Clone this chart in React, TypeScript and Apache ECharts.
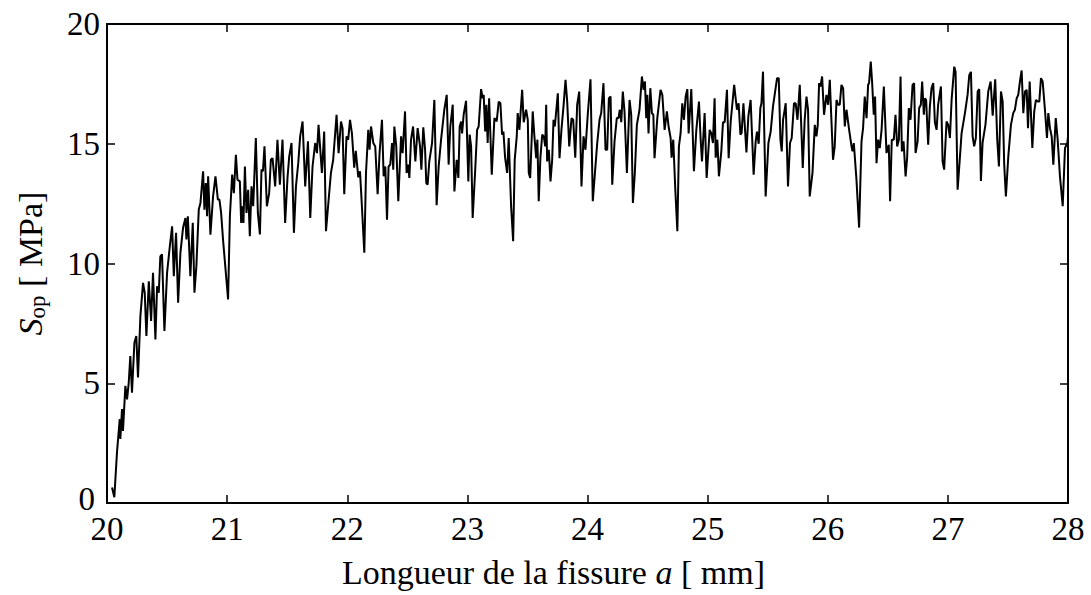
import React, { useEffect, useRef } from "react";
import * as echarts from "echarts";

// Crack length a [mm] vs. opening stress S_op [MPa]
const seg1: number[][] = [[20.042,0.65],[20.061,0.24],[20.083,2.11],[20.106,3.5],[20.111,2.67],[20.125,3.92],[20.133,3.01],[20.153,4.89],[20.167,4.33],[20.181,5.03],[20.194,6.14],[20.208,4.61],[20.228,6.69],[20.244,6.97],[20.258,5.24],[20.278,7.8],[20.3,9.19],[20.314,8.78],[20.328,6.97],[20.348,9.26],[20.367,7.6],[20.383,9.61],[20.403,6.83],[20.417,9.05],[20.431,8.78],[20.444,10.3],[20.458,10.38],[20.478,7.18],[20.5,9.61],[20.523,10.72],[20.542,11.55],[20.556,9.47],[20.575,11.28],[20.592,8.36],[20.611,10.44],[20.633,11.49],[20.653,11.9],[20.661,11.0],[20.673,11.97],[20.694,9.47],[20.714,11.7],[20.728,8.78],[20.744,9.89],[20.764,12.25],[20.778,12.53],[20.8,13.85],[20.811,12.25],[20.823,13.36],[20.833,11.97],[20.842,13.64],[20.861,11.2],[20.883,12.8],[20.903,13.64],[20.923,12.67],[20.936,12.67],[20.95,12.11],[20.967,10.93],[21.008,8.5],[21.023,11.97],[21.042,13.71],[21.056,12.94],[21.073,14.54],[21.086,13.5]];
const seg2: number[][] = [[21.106,13.43],[21.117,11.69],[21.128,12.39],[21.136,11.69],[21.148,14.05],[21.161,12.11],[21.175,13.08],[21.189,11.14],[21.203,13.22],[21.217,12.39],[21.239,15.24],[21.256,12.11],[21.273,11.21],[21.286,13.92],[21.298,13.85],[21.311,14.89],[21.331,12.39],[21.35,12.94],[21.364,14.33],[21.378,14.4],[21.4,13.22],[21.419,15.17],[21.439,13.29],[21.461,15.17],[21.483,11.69],[21.503,13.61],[21.517,14.47],[21.536,15.03],[21.556,11.28],[21.573,13.22],[21.592,14.19],[21.608,15.31],[21.628,15.93],[21.65,13.22],[21.673,15.1],[21.692,11.9],[21.711,14.05],[21.733,15.03],[21.748,14.61],[21.761,15.79],[21.789,13.78],[21.808,15.51],[21.823,11.35],[21.844,12.6],[21.864,13.78],[21.883,14.33],[21.911,16.21],[21.928,14.61],[21.948,15.93],[21.961,15.65],[21.975,12.89],[21.994,15.31],[22.008,15.17],[22.023,16.0],[22.039,15.43],[22.058,14.0],[22.071,14.7],[22.092,13.6]];
const seg3: number[][] = [[22.106,13.85],[22.119,12.67],[22.142,10.45],[22.156,13.78],[22.175,15.58],[22.186,14.75],[22.198,15.72],[22.217,15.03],[22.233,14.89],[22.253,12.89],[22.269,14.61],[22.289,16.0],[22.303,13.64],[22.317,14.05],[22.331,11.83],[22.344,14.05],[22.358,14.13],[22.373,15.03],[22.383,13.92],[22.392,15.72],[22.408,14.89],[22.425,12.6],[22.448,15.31],[22.461,14.61],[22.481,16.35],[22.494,13.78],[22.508,14.13],[22.517,13.57],[22.531,15.17],[22.548,15.72],[22.567,14.26],[22.586,15.65],[22.606,14.89],[22.617,13.92],[22.633,15.69],[22.648,14.75],[22.658,13.36],[22.669,13.29],[22.683,14.26],[22.706,15.03],[22.725,16.83],[22.744,12.43],[22.761,14.05],[22.781,15.17],[22.808,16.42],[22.828,17.04],[22.844,14.13],[22.858,15.72],[22.878,16.63],[22.892,13.01],[22.911,14.33],[22.925,13.57],[22.936,15.72],[22.948,15.93],[22.956,15.43],[22.969,16.21],[22.989,16.79],[23.008,13.43],[23.019,15.38],[23.031,14.89],[23.044,11.9],[23.064,13.78],[23.081,15.58],[23.094,15.72]];
const seg4: number[][] = [[23.114,17.28],[23.128,16.9],[23.136,17.04],[23.148,15.51],[23.158,16.63],[23.169,15.03],[23.181,16.9],[23.203,13.71],[23.225,16.07],[23.244,15.93],[23.261,16.76],[23.275,16.69],[23.289,15.38],[23.3,15.51],[23.314,14.42],[23.331,13.78],[23.344,15.24],[23.364,12.39],[23.381,10.93],[23.394,14.33],[23.411,15.31],[23.419,16.28],[23.433,15.58],[23.456,17.25],[23.469,15.9],[23.489,16.42],[23.503,16.0],[23.511,13.78],[23.523,13.57],[23.544,16.35],[23.558,15.31],[23.573,14.4],[23.583,15.17],[23.594,12.6],[23.608,14.42],[23.623,15.38],[23.636,15.31],[23.648,14.89],[23.656,16.63],[23.664,14.26],[23.678,14.75],[23.692,13.43],[23.706,14.33],[23.717,16.0],[23.728,15.72],[23.753,17.11],[23.767,14.4],[23.783,15.58],[23.8,16.55],[23.817,17.67],[23.831,16.76],[23.848,14.89],[23.867,16.07],[23.881,16.0],[23.898,14.42],[23.914,16.63],[23.931,17.18],[23.95,13.22],[23.967,15.31],[23.983,14.75],[24.003,16.28],[24.025,17.69],[24.044,12.6],[24.064,13.92],[24.081,15.03],[24.1,16.0]];
const seg5: number[][] = [[24.114,16.28],[24.133,17.53],[24.15,14.75],[24.164,14.75],[24.178,16.9],[24.192,16.97],[24.206,13.29],[24.225,15.1],[24.244,16.07],[24.258,16.07],[24.269,16.42],[24.281,15.9],[24.294,17.18],[24.308,16.35],[24.328,13.78],[24.35,16.83],[24.364,16.21],[24.378,12.53],[24.394,13.78],[24.411,15.79],[24.433,16.42],[24.453,17.81],[24.467,17.25],[24.478,17.6],[24.489,16.07],[24.498,17.04],[24.508,15.43],[24.523,17.32],[24.536,16.28],[24.548,16.21],[24.558,14.4],[24.581,16.07],[24.608,17.25],[24.623,17.04],[24.642,15.58],[24.661,16.35],[24.675,15.72],[24.692,15.24],[24.7,14.42],[24.714,15.17],[24.731,13.08],[24.748,11.35],[24.761,14.89],[24.775,15.43],[24.789,16.69],[24.803,16.0],[24.817,16.97],[24.831,17.28],[24.842,15.43],[24.864,17.28],[24.886,13.85],[24.906,15.58],[24.928,16.76],[24.942,15.17],[24.953,14.26],[24.975,16.28],[24.992,13.57],[25.017,15.58],[25.031,15.43],[25.044,15.03],[25.058,16.9],[25.067,14.42],[25.081,15.17],[25.094,13.64],[25.114,14.68],[25.128,15.9],[25.142,15.9],[25.161,17.25],[25.175,14.4],[25.192,15.93]];
const seg6: number[][] = [[25.221,17.46],[25.244,16.42],[25.258,16.69],[25.273,15.38],[25.283,15.45],[25.298,16.69],[25.323,14.64],[25.339,16.14],[25.358,16.83],[25.383,13.71],[25.4,15.1],[25.411,15.51],[25.425,15.0],[25.439,16.49],[25.448,16.69],[25.461,18.01],[25.483,12.8],[25.506,15.03],[25.525,15.51],[25.544,16.55],[25.564,17.25],[25.578,17.74],[25.592,17.74],[25.606,15.17],[25.617,14.68],[25.628,16.0],[25.65,16.69],[25.669,13.22],[25.686,15.03],[25.7,15.24],[25.719,16.69],[25.733,16.69],[25.748,16.0],[25.767,17.46],[25.792,13.99],[25.808,16.0],[25.823,16.97],[25.836,16.42],[25.85,12.8],[25.873,13.78],[25.892,15.79],[25.906,15.31],[25.917,15.79],[25.928,17.53],[25.939,17.39],[25.953,17.81],[25.969,16.21],[25.989,17.04],[26.003,16.63],[26.017,17.67],[26.031,15.93],[26.044,14.33],[26.058,14.89],[26.073,16.83],[26.086,16.63],[26.1,16.63],[26.114,17.46],[26.128,17.32],[26.142,15.72],[26.156,16.42],[26.178,15.58],[26.198,14.89],[26.206,14.68],[26.217,15.03],[26.239,13.5],[26.261,11.5]];
const seg7: number[][] = [[26.281,15.1],[26.294,15.65],[26.308,16.97],[26.323,16.07],[26.336,17.46],[26.344,17.53],[26.358,18.43],[26.369,17.6],[26.383,16.21],[26.394,16.97],[26.406,14.19],[26.419,15.17],[26.433,14.82],[26.448,15.58],[26.467,17.39],[26.489,14.61],[26.508,14.96],[26.519,12.6],[26.533,15.17],[26.55,15.17],[26.564,16.21],[26.578,14.89],[26.592,15.17],[26.606,17.81],[26.617,14.68],[26.631,15.1],[26.648,13.64],[26.661,14.42],[26.675,16.49],[26.689,16.0],[26.706,17.46],[26.719,17.53],[26.731,14.61],[26.748,15.1],[26.761,16.49],[26.775,16.63],[26.786,17.6],[26.8,16.21],[26.808,16.9],[26.819,16.83],[26.836,14.96],[26.85,16.55],[26.864,17.32],[26.878,17.53],[26.892,15.9],[26.906,15.58],[26.919,16.63],[26.942,17.39],[26.956,14.26],[26.969,13.92],[26.989,15.93],[27.003,15.79],[27.017,15.24],[27.031,16.83],[27.053,18.22],[27.064,18.01],[27.081,13.08],[27.1,14.42],[27.114,15.43],[27.142,16.28],[27.164,17.04],[27.178,17.86],[27.192,18.0],[27.206,15.31],[27.219,14.89],[27.233,15.24],[27.248,17.18],[27.261,17.28],[27.275,13.45],[27.289,15.05]];
const seg8: number[][] = [[27.313,15.8],[27.336,17.18],[27.356,17.6],[27.373,16.17],[27.394,17.69],[27.411,15.17],[27.425,14.05],[27.442,17.18],[27.456,16.76],[27.469,14.13],[27.483,12.8],[27.503,14.47],[27.525,15.79],[27.544,16.28],[27.558,16.42],[27.573,16.9],[27.586,17.04],[27.6,17.6],[27.614,18.06],[27.628,16.28],[27.642,17.18],[27.656,17.25],[27.667,15.65],[27.681,17.6],[27.703,14.82],[27.719,16.35],[27.733,16.83],[27.748,16.76],[27.761,16.76],[27.775,17.74],[27.789,17.6],[27.808,16.42],[27.825,15.24],[27.836,16.28],[27.85,15.65],[27.864,15.31],[27.878,14.13],[27.898,16.07],[27.914,15.17],[27.933,13.64],[27.956,12.39],[27.975,14.82],[27.994,15.03],[28.0,15.3]];

const xTicks = { min: 20, max: 28, interval: 1 };
const yTicks = { min: 0, max: 20, interval: 5 };

const FONT = "'Liberation Serif', 'DejaVu Serif', serif";

export default function App() {
  const ref = useRef<HTMLDivElement>(null);
  useEffect(() => {
    if (!ref.current) return;
    const chart = echarts.init(ref.current, undefined, { renderer: "svg" });
    const data = [...seg1, ...seg2, ...seg3, ...seg4, ...seg5, ...seg6, ...seg7, ...seg8];
    const axisLine = { show: true, onZero: false, lineStyle: { color: "#000", width: 2 } };
    const axisTick = { show: true, inside: true, length: 8, lineStyle: { color: "#000", width: 1.5 } };
    chart.setOption({
      animation: false,
      backgroundColor: "#fff",
      grid: { left: 107, right: 23, top: 24, bottom: 92, show: false },
      xAxis: [
        {
          type: "value", ...xTicks, position: "bottom",
          axisLine, axisTick,
          splitLine: { show: false },
          axisLabel: { color: "#000", fontFamily: FONT, fontSize: 33, lineHeight: 22, margin: 15 },
          name: "Longueur de la fissure {it|a} [ mm]",
          nameLocation: "middle", nameGap: 52,
          nameTextStyle: {
            color: "#000", fontFamily: FONT, fontSize: 34,
            padding: [0, 68, 0, 0],
            rich: { it: { fontStyle: "italic", fontFamily: FONT, fontSize: 34, color: "#000" } },
          },
        },
        {
          type: "value", ...xTicks, position: "top",
          axisLine, axisTick,
          splitLine: { show: false }, axisLabel: { show: false },
        },
      ],
      yAxis: [
        {
          type: "value", ...yTicks, position: "left",
          axisLine, axisTick,
          splitLine: { show: false },
          axisLabel: {
            color: "#000", fontFamily: FONT, fontSize: 33, lineHeight: 22, margin: 7,
            formatter: (v: number) => (v === 0 ? "{z|0}" : String(v)),
            rich: { z: { color: "#000", fontFamily: FONT, fontSize: 33, lineHeight: 22, padding: [0, 5, 8, 0] } },
          },
          name: "{it|S}{sub|op} [ MPa]",
          nameLocation: "middle", nameGap: 58, nameRotate: 90,
          nameTextStyle: {
            color: "#000", fontFamily: FONT, fontSize: 34,
            rich: {
              it: { fontStyle: "italic", fontFamily: FONT, fontSize: 34, color: "#000" },
              sub: { fontFamily: FONT, fontSize: 23, color: "#000", padding: [15, 0, 0, 0] },
            },
          },
        },
        {
          type: "value", ...yTicks, position: "right",
          axisLine, axisTick,
          splitLine: { show: false }, axisLabel: { show: false },
        },
      ],
      series: [
        {
          type: "line", xAxisIndex: 0, yAxisIndex: 0, data,
          showSymbol: false, symbol: "none",
          lineStyle: { color: "#000", width: 2 },
          clip: true, silent: true,
        },
      ],
    });
    return () => chart.dispose();
  }, []);
  return (
    <div
      ref={ref}
      style={{ position: "fixed", left: 0, top: 0, width: 1091, height: 595, background: "#fff" }}
    />
  );
}
